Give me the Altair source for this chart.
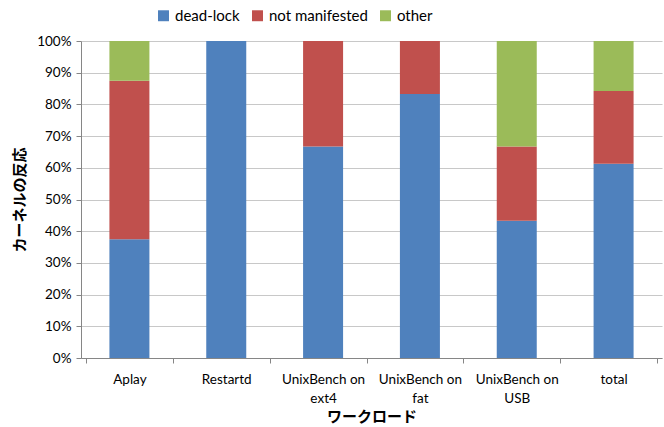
import altair as alt
import pandas as pd

categories = ["Aplay", "Restartd", "UnixBench on ext4", "UnixBench on fat", "UnixBench on USB", "total"]
series = ["dead-lock", "not manifested", "other"]
dead_lock = [0.375, 1.0, 0.667, 0.833, 0.433, 0.613]
not_manifested = [0.500, 0.0, 0.333, 0.167, 0.234, 0.229]
other = [0.125, 0.0, 0.0, 0.0, 0.333, 0.158]
colors = ["#4F81BD", "#C0504D", "#9BBB59"]

rows = []
for i, c in enumerate(categories):
    for j, (s, vals) in enumerate(zip(series, [dead_lock, not_manifested, other])):
        rows.append({"workload": c, "series": s, "value": vals[i], "order": j})
df = pd.DataFrame(rows)

font = "Lato"
jp = "Noto Sans CJK JP"

chart = alt.Chart(df).mark_bar(size=40).encode(
    x=alt.X("workload:N", sort=categories, title="ワークロード",
            axis=alt.Axis(labelAngle=0, tickBand="extent", domainColor="#868686",
                          tickColor="#868686", tickSize=5, labelPadding=9,
                          labelExpr="indexof(datum.label,'UnixBench on ')==0 ? ['UnixBench on', substring(datum.label, 13)] : datum.label",
                          labelFont=font, labelFontSize=13.5, labelColor="#000000", labelLineHeight=19,
                          titleFont=jp, titleFontSize=15, titleFontWeight="bold", titlePadding=5,
                          titleColor="#000000", grid=False)),
    y=alt.Y("value:Q", stack="zero", title="カーネルの反応",
            scale=alt.Scale(domain=[0, 1], nice=False),
            axis=alt.Axis(format=".0%", values=[i / 10 for i in range(11)],
                          domainColor="#868686", tickColor="#868686", tickSize=5,
                          gridColor="#C8C8C8", labelFont=font, labelFontSize=13.5,
                          labelColor="#000000", labelPadding=5,
                          titleFont=jp, titleFontSize=15, titleFontWeight="bold",
                          titleColor="#000000", titlePadding=9)),
    color=alt.Color("series:N", sort=series,
                    scale=alt.Scale(domain=series, range=colors),
                    legend=alt.Legend(title=None, orient="none", direction="horizontal",
                                      legendX=75, legendY=-33, symbolType="square",
                                      symbolSize=120, symbolStrokeWidth=0,
                                      labelFont=font, labelFontSize=15, labelColor="#000000",
                                      columnPadding=10, labelOffset=4)),
    order=alt.Order("order:Q", sort="ascending"),
).properties(
    width=581, height=317,
    padding={"left": 81, "top": 41, "right": 2, "bottom": 69},
    autosize=alt.AutoSizeParams(type="none"),
).configure_view(stroke=None)

chart.save("out.html", embed_options={"renderer": "svg", "actions": False})
